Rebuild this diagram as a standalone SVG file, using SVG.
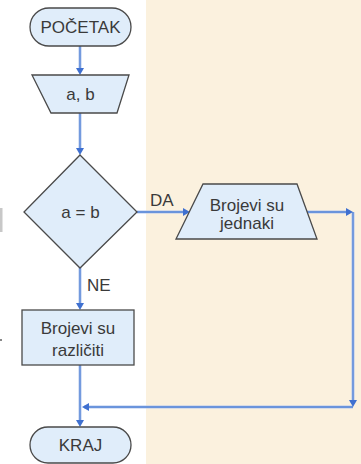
<svg xmlns="http://www.w3.org/2000/svg" width="361" height="464" viewBox="0 0 361 464">
<defs>
<style>
.node{fill:#E0EDFA;stroke:#4A4A4A;stroke-width:1.3}
.t{font-family:"Liberation Sans",Arial,sans-serif;font-size:17px;fill:#3A3A3A;text-anchor:middle}
.lbl{font-family:"Liberation Sans",Arial,sans-serif;font-size:17px;fill:#3A3A3A}
.glow{fill:none;stroke:#B4C8EE;stroke-width:3}
.ln{fill:none;stroke:#5282D6;stroke-width:1.3}
.ah{fill:#3F70D0}
</style>
</defs>
<rect x="146" y="0" width="215" height="464" fill="#FBF1DE"/>
<rect x="0" y="208" width="2.5" height="24" fill="#C8C8C8"/>
<rect x="0" y="339" width="2" height="2" fill="#888"/>
<g id="connectors">
<path class="glow" d="M80,46V72 M80,113V152 M137,212H187 M307,212H350 M353,212V404 M353,407H84 M80,267V307 M80,365V423"/>
<path class="ln" d="M80,46V72 M80,113V152 M137,212H187 M307,212H350 M353,212V404 M353,407H84 M80,267V307 M80,365V423"/>
<polygon class="ah" points="76,68 84,68 80,75"/>
<polygon class="ah" points="76,148 84,148 80,155"/>
<polygon class="ah" points="183,208 183,216 190,212"/>
<polygon class="ah" points="346,208 346,216 353,212"/>
<polygon class="ah" points="349,400 357,400 353,407"/>
<polygon class="ah" points="89,403 89,411 82,407"/>
<polygon class="ah" points="76,303 84,303 80,310"/>
<polygon class="ah" points="76,420 84,420 80,427"/>
<text class="lbl" x="150" y="206">DA</text>
<text class="lbl" x="87" y="291">NE</text>
</g>
<g id="start">
<rect class="node" x="30" y="8" width="101" height="38" rx="19"/>
<text class="t" x="80.5" y="33">POČETAK</text>
</g>
<g id="input">
<polygon class="node" points="32,75 129,75 117,113 51,113"/>
<text class="t" x="80.5" y="100">a, b</text>
</g>
<g id="decision">
<polygon class="node" points="80,155 137,212 80,268 24,212"/>
<text class="t" x="80.5" y="218">a = b</text>
</g>
<g id="equal">
<polygon class="node" points="203,184 297,184 317,239 176,239"/>
<text class="t" x="247" y="211">Brojevi su</text>
<text class="t" x="247" y="229">jednaki</text>
</g>
<g id="different">
<rect class="node" x="22" y="310" width="112" height="55"/>
<text class="t" x="78" y="334">Brojevi su</text>
<text class="t" x="78" y="356">različiti</text>
</g>
<g id="end">
<rect class="node" x="30" y="427" width="101" height="36" rx="18"/>
<text class="t" x="80.5" y="450.5">KRAJ</text>
</g>
</svg>
